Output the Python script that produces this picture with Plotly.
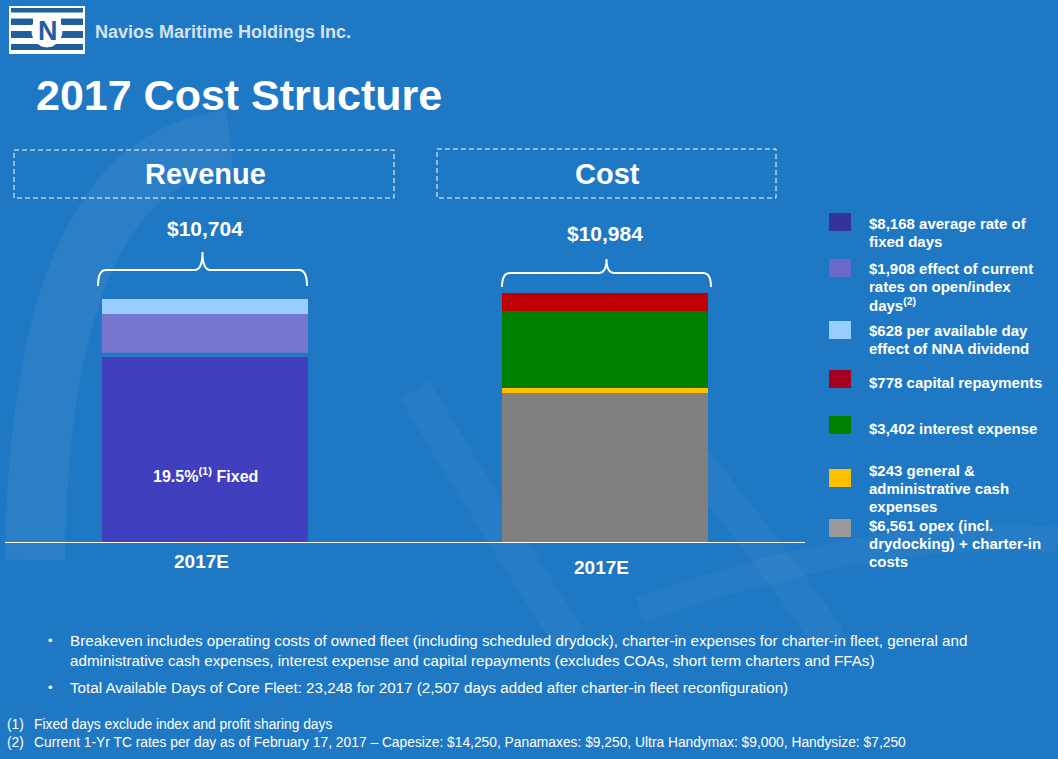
import plotly.graph_objects as go

# data
rev_desc = ["average rate of<br>fixed days",
            "effect of current<br>rates on open/index<br>days<sup>(2)</sup>",
            "per available day<br>effect of NNA dividend"]
rev_vals = [8168, 1908, 628]
rev_colors = ["#4040bf", "#7676cf", "#99ccff"]
rev_legend_colors = ["#333399", "#6a6acd", "#99ccff"]

# cost, stacked bottom -> top
cost_desc = ["opex (incl.<br>drydocking) + charter-in<br>costs",
             "general &<br>administrative cash<br>expenses",
             "interest expense",
             "capital repayments"]
cost_vals = [6561, 243, 3402, 778]
cost_colors = ["#808080", "#ffc000", "#008000", "#c00000"]
cost_legend_colors = ["#999999", "#ffc000", "#008000", "#a50021"]

cats = ["Revenue", "Cost"]
tick_labels = ["2017E", "2017E"]
fixed_pct = "19.5%"

BG = "#1f78c3"
W, H = 1058, 759
ml, mr, mt, mb = 5, 253, 200, 217
pw, ph = W - ml - mr, H - mt - mb

def px(x):
    return (x - ml) / pw

def py(y):
    return 1 - (y - mt) / ph

fig = go.Figure()
for v, c in zip(rev_vals, rev_colors):
    fig.add_trace(go.Bar(x=[0], y=[v], width=0.515, marker=dict(color=c, line_width=0),
                         showlegend=False, hoverinfo="skip"))
for v, c in zip(cost_vals, cost_colors):
    fig.add_trace(go.Bar(x=[1], y=[v], width=0.515, marker=dict(color=c, line_width=0),
                         showlegend=False, hoverinfo="skip"))

shapes = []
# faint watermark swooshes in the background
def pth(pts):
    s = "M %f,%f" % (px(pts[0][0]), py(pts[0][1]))
    s += " Q %f,%f %f,%f" % (px(pts[1][0]), py(pts[1][1]), px(pts[2][0]), py(pts[2][1]))
    return s
shapes.append(dict(type="path", xref="paper", yref="paper", path=pth([(35, 560), (40, 160), (230, 140)]),
                   line=dict(color="rgba(255,255,255,0.055)", width=60), layer="below"))
shapes.append(dict(type="path", xref="paper", yref="paper", path=pth([(415, 390), (480, 500), (570, 640)]),
                   line=dict(color="rgba(255,255,255,0.04)", width=34), layer="below"))
shapes.append(dict(type="path", xref="paper", yref="paper", path=pth([(690, 455), (760, 540), (830, 640)]),
                   line=dict(color="rgba(255,255,255,0.04)", width=34), layer="below"))
shapes.append(dict(type="path", xref="paper", yref="paper", path=pth([(640, 610), (880, 525), (1058, 540)]),
                   line=dict(color="rgba(255,255,255,0.035)", width=26), layer="below"))

# gap between fixed and open days segment
shapes.append(dict(type="line", xref="x", yref="y", x0=-0.2575, x1=0.2575,
                   y0=rev_vals[0] + 90, y1=rev_vals[0] + 90, line=dict(color=BG, width=4)))

# logo
shapes.append(dict(type="rect", xref="paper", yref="paper", x0=px(9), x1=px(85), y0=py(6), y1=py(54),
                   fillcolor="white", line=dict(color="white", width=0)))
logo_blue = "#1f5f9f"
for y0, y1 in [(8, 12.5), (44, 50)]:
    shapes.append(dict(type="rect", xref="paper", yref="paper", x0=px(11), x1=px(83), y0=py(y0), y1=py(y1),
                       fillcolor=logo_blue, line=dict(width=0)))
for y0, y1 in [(18.5, 25), (31, 38)]:
    for x0, x1 in [(11, 33), (61, 83)]:
        shapes.append(dict(type="rect", xref="paper", yref="paper", x0=px(x0), x1=px(x1), y0=py(y0), y1=py(y1),
                           fillcolor=logo_blue, line=dict(width=0)))
shapes.append(dict(type="circle", xref="paper", yref="paper", x0=px(32), x1=px(62), y0=py(47), y1=py(14),
                   fillcolor="white", line=dict(color="white", width=1)))

# dashed header boxes
for x0, x1, y0, y1 in [(14, 394, 150, 198), (437, 776, 149, 198)]:
    shapes.append(dict(type="rect", xref="paper", yref="paper", x0=px(x0), x1=px(x1), y0=py(y0), y1=py(y1),
                       line=dict(color="white", width=1, dash="5px,3px")))

# braces over the bars
def brace(xl, xr, yb, ym, yt):
    xc = (xl + xr) / 2
    r = 8
    p = "M %f,%f" % (px(xl), py(yb))
    p += " Q %f,%f %f,%f" % (px(xl), py(ym), px(xl + r), py(ym))
    p += " L %f,%f" % (px(xc - r), py(ym))
    p += " Q %f,%f %f,%f" % (px(xc), py(ym), px(xc), py(yt))
    p += " Q %f,%f %f,%f" % (px(xc), py(ym), px(xc + r), py(ym))
    p += " L %f,%f" % (px(xr - r), py(ym))
    p += " Q %f,%f %f,%f" % (px(xr), py(ym), px(xr), py(yb))
    return p
shapes.append(dict(type="path", xref="paper", yref="paper", path=brace(98, 307, 286, 270, 252),
                   line=dict(color="white", width=2)))
shapes.append(dict(type="path", xref="paper", yref="paper", path=brace(502, 711, 287, 273, 259),
                   line=dict(color="white", width=2)))

# legend squares
leg_colors = rev_legend_colors + cost_legend_colors[::-1]
leg_text = ["$%s %s" % (format(v, ","), d) for v, d in zip(rev_vals, rev_desc)] + \
           ["$%s %s" % (format(v, ","), d) for v, d in zip(cost_vals[::-1], cost_desc[::-1])]
sq_centers = [222, 268, 330, 379, 425, 478, 528]
txt_first = [223, 268, 330, 382, 428, 470, 525]
for c, yc in zip(leg_colors, sq_centers):
    shapes.append(dict(type="rect", xref="paper", yref="paper", x0=px(829), x1=px(851),
                       y0=py(yc - 9), y1=py(yc + 9), fillcolor=c, line=dict(width=0)))

ann = []
bold = "Liberation Sans, Arial, sans-serif"
ann.append(dict(x=px(93), y=py(32), xref="paper", yref="paper", xanchor="left", yanchor="middle",
                text="<b>Navios Maritime Holdings Inc.</b>", showarrow=False,
                font=dict(family=bold, size=18, color="#d6e2ef")))
ann.append(dict(x=px(47.5), y=py(30.5), xref="paper", yref="paper", xanchor="center", yanchor="middle",
                text="<b>N</b>", showarrow=False, font=dict(family=bold, size=27, color=logo_blue)))
ann.append(dict(x=px(34), y=py(95), xref="paper", yref="paper", xanchor="left", yanchor="middle",
                text="<b>2017 Cost Structure</b>", showarrow=False, font=dict(family=bold, size=43, color="white")))
for name, xc, yc in [(cats[0], 205, 174), (cats[1], 607, 174)]:
    ann.append(dict(x=px(xc), y=py(yc), xref="paper", yref="paper", xanchor="center", yanchor="middle",
                    text="<b>%s</b>" % name, showarrow=False, font=dict(family=bold, size=29, color="white")))
for i, (tot, yc) in enumerate([(sum(rev_vals), 228), (sum(cost_vals), 233)]):
    ann.append(dict(x=i, y=py(yc), xref="x", yref="paper", xanchor="center", yanchor="middle",
                    text="<b>$%s</b>" % format(tot, ","), showarrow=False,
                    font=dict(family=bold, size=21, color="white")))
for i, (t, yc) in enumerate(zip(tick_labels, [561, 567])):
    ann.append(dict(x=i - 0.01, y=py(yc), xref="x", yref="paper", xanchor="center", yanchor="middle",
                    text="<b>%s</b>" % t, showarrow=False, font=dict(family=bold, size=19, color="white")))
ann.append(dict(x=0, y=rev_vals[0] * 0.36, xref="x", yref="y", xanchor="center", yanchor="middle",
                text="<b>%s<sup>(1)</sup> Fixed</b>" % fixed_pct, showarrow=False,
                font=dict(family=bold, size=16, color="white")))
for t, yc in zip(leg_text, txt_first):
    for k, line in enumerate(t.split("<br>")):
        ann.append(dict(x=px(867), y=py(yc + 18 * k), xref="paper", yref="paper", xanchor="left",
                        yanchor="middle", text="<b>%s</b>" % line, showarrow=False,
                        font=dict(family=bold, size=15, color="white")))

body = [("Breakeven includes operating costs of owned fleet (including scheduled drydock), charter-in expenses for charter-in fleet, general and", 640, True),
        ("administrative cash expenses, interest expense and capital repayments (excludes COAs, short term charters and FFAs)", 660, False),
        ("Total Available Days of Core Fleet: 23,248 for 2017 (2,507 days added after charter-in fleet reconfiguration)", 687, True)]
for t, yc, bullet in body:
    ann.append(dict(x=px(68), y=py(yc), xref="paper", yref="paper", xanchor="left", yanchor="middle",
                    text=t, showarrow=False, font=dict(family=bold, size=15.2, color="white")))
    if bullet:
        ann.append(dict(x=px(50), y=py(yc), xref="paper", yref="paper", xanchor="center", yanchor="middle",
                        text="•", showarrow=False, font=dict(family=bold, size=13, color="white")))
notes = [("(1)", "Fixed days exclude index and profit sharing days", 724),
         ("(2)", "Current 1-Yr TC rates per day as of February 17, 2017 – Capesize: $14,250, Panamaxes: $9,250, Ultra Handymax: $9,000, Handysize: $7,250", 742)]
for n, t, yc in notes:
    ann.append(dict(x=px(5), y=py(yc), xref="paper", yref="paper", xanchor="left", yanchor="middle",
                    text=n, showarrow=False, font=dict(family=bold, size=13.8, color="white")))
    ann.append(dict(x=px(32), y=py(yc), xref="paper", yref="paper", xanchor="left", yanchor="middle",
                    text=t, showarrow=False, font=dict(family=bold, size=13.8, color="white")))

fig.update_layout(
    width=W, height=H,
    margin=dict(l=ml, r=mr, t=mt, b=mb),
    paper_bgcolor=BG, plot_bgcolor="rgba(0,0,0,0)",
    barmode="stack", bargap=0,
    showlegend=False,
    shapes=shapes, annotations=ann,
    xaxis=dict(range=[-0.5, 1.5], showticklabels=False, showline=True, linecolor="white",
               linewidth=1, showgrid=False, zeroline=False, ticks="", fixedrange=True),
    yaxis=dict(range=[0, ph * 44.1], visible=False, showgrid=False, zeroline=False, fixedrange=True),
)

fig.write_html("out.html", config={"displayModeBar": False},
               post_script="document.body.style.margin='0';")
